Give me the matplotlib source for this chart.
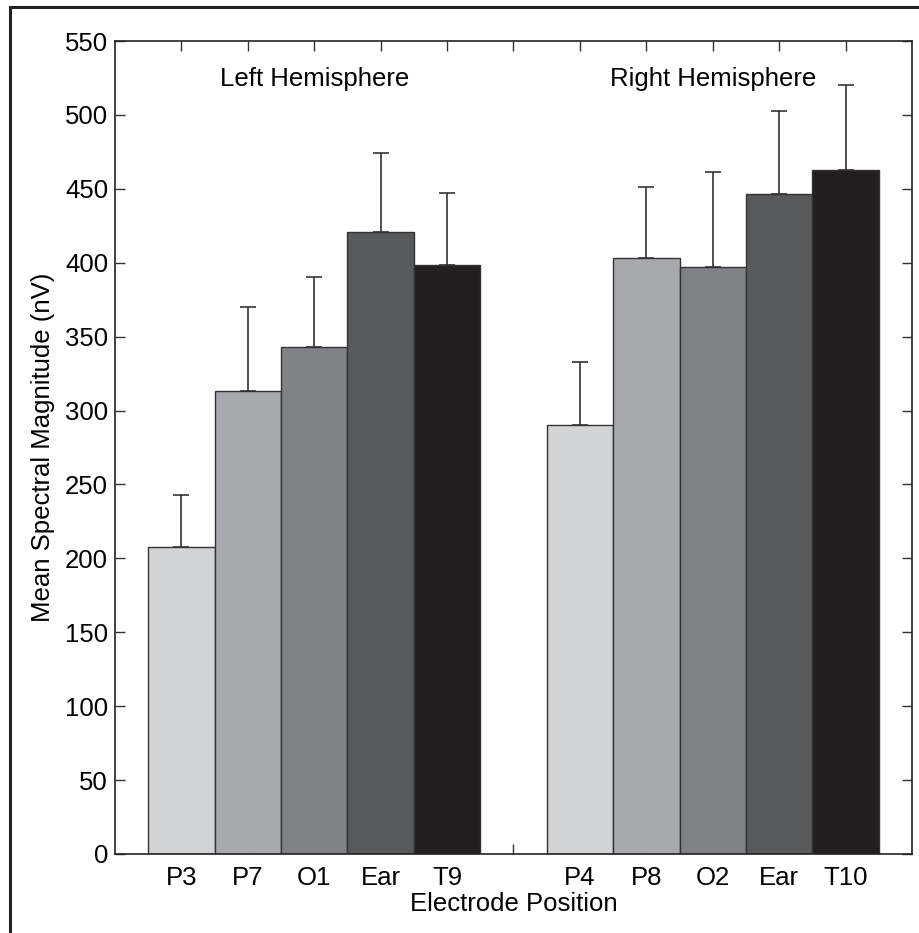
import matplotlib
matplotlib.use('Agg')
import matplotlib.pyplot as plt
from matplotlib.patches import Rectangle

# electrode labels, left then right hemisphere (blank slot between groups)
left_labels = ['P3', 'P7', 'O1', 'Ear', 'T9']
right_labels = ['P4', 'P8', 'O2', 'Ear', 'T10']

# mean spectral magnitude (nV) and upper error (SD)
left_means = [208, 313.5, 343, 421, 398.5]
left_sd = [35, 56.5, 47.5, 53, 48.5]
right_means = [290.5, 403, 397, 446.5, 463]
right_sd = [42.5, 48, 64.5, 56.5, 57.5]

grays = ['#d1d3d4', '#a7a9ac', '#808285', '#58595b', '#231f20']

FS = 18.5


def main():
    plt.rcParams['font.family'] = ['Liberation Sans', 'DejaVu Sans']
    fig = plt.figure(figsize=(9.2, 9.33), dpi=100)
    ax = fig.add_axes([0.125, 0.0847, 0.8663, 0.8713])

    left_x = list(range(1, 6))
    right_x = list(range(7, 12))

    for xs, means, sd in [(left_x, left_means, left_sd),
                          (right_x, right_means, right_sd)]:
        ax.bar(xs, means, width=1.0, color=grays, edgecolor='#333333',
               linewidth=1.0, zorder=2)
        ax.errorbar(xs, means, yerr=[[0] * len(sd), sd], fmt='none',
                    ecolor='#333333', elinewidth=1.2, capsize=6,
                    capthick=1.2, zorder=3)

    ax.set_xlim(0, 12)
    ax.set_ylim(0, 550)
    ax.set_yticks(range(0, 551, 50))
    ax.set_xticks(range(1, 12))
    ax.set_xticklabels(left_labels + [''] + right_labels)

    ax.tick_params(direction='in', length=7, width=1, color='#333333',
                   top=True, right=True, labelsize=FS)
    ax.tick_params(axis='x', pad=9)
    ax.tick_params(axis='y', pad=5)
    for s in ax.spines.values():
        s.set_linewidth(1.2)
        s.set_color('#222222')

    ax.set_xlabel('Electrode Position', fontsize=FS, labelpad=1)
    ax.set_ylabel('Mean Spectral Magnitude (nV)', fontsize=FS, labelpad=7)

    ax.text(3, 524, 'Left Hemisphere', ha='center', va='center', fontsize=FS)
    ax.text(9, 524, 'Right Hemisphere', ha='center', va='center', fontsize=FS)

    # outer frame running off the right and bottom edges
    fig.patches.append(Rectangle((10.5 / 920, -0.2), 2.0, 1.2 - 6.5 / 933,
                                 transform=fig.transFigure, fill=False,
                                 linewidth=2.2, edgecolor='#222222',
                                 clip_on=False))

    fig.savefig('out.png', dpi=100)


if __name__ == "__main__":
    main()
